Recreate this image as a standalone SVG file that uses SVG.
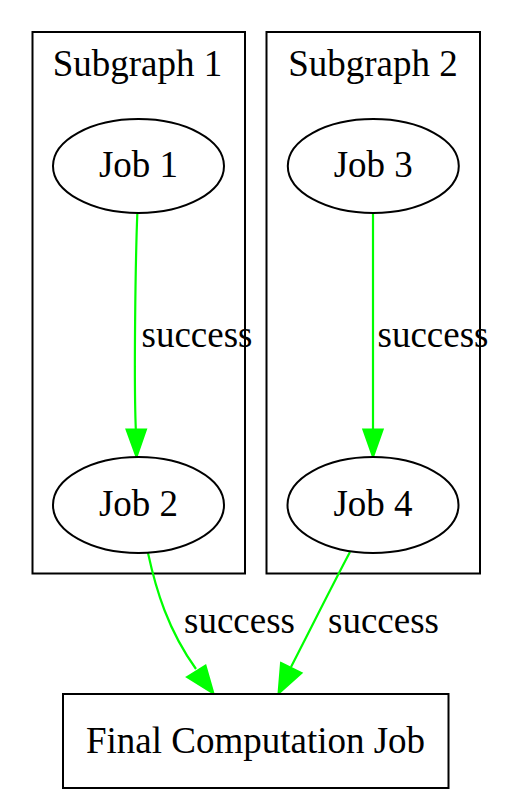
<svg xmlns="http://www.w3.org/2000/svg" width="512" height="800" viewBox="0 0 512 800">
<style>
text{font-family:"Liberation Serif","Times New Roman",serif;font-size:37px;fill:#000;text-anchor:middle}
.cl{fill:none;stroke:#000;stroke-width:2}
.nd{fill:#fff;stroke:#000;stroke-width:2}
.ed{fill:none;stroke:#00ff00;stroke-width:2.2}
.ah{fill:#00ff00;stroke:#00ff00;stroke-width:2}
.lb{text-anchor:start}
</style>
<rect width="512" height="800" fill="#fff"/>
<g id="cluster1">
<rect class="cl" x="32.5" y="32" width="212.5" height="541.5"/>
<text x="137.5" y="75.5">Subgraph 1</text>
</g>
<g id="cluster2">
<rect class="cl" x="266.5" y="32" width="213.5" height="541.5"/>
<text x="373" y="75.5">Subgraph 2</text>
</g>
<g id="edges">
<path class="ed" d="M137.3,214 C135.5,260 133.8,380 135.8,429"/>
<polygon class="ah" points="126.5,429.5 146,429.5 136.5,457"/>
<text class="lb" x="141.5" y="346.5">success</text>
<path class="ed" d="M373,214 L373,429"/>
<polygon class="ah" points="363.3,429.5 382.7,429.5 373,457"/>
<text class="lb" x="377.5" y="346.5">success</text>
<path class="ed" d="M148,553 C156,590 168,630 196,669"/>
<polygon class="ah" points="187,677 205.5,665.5 213.5,693.5"/>
<text class="lb" x="184" y="633">success</text>
<path class="ed" d="M350,552 C335,580 310,630 291,667"/>
<polygon class="ah" points="281,663 301.5,673 278.5,693.5"/>
<text class="lb" x="328" y="633">success</text>
</g>
<g id="job1">
<ellipse class="nd" cx="138.5" cy="166" rx="85.5" ry="47"/>
<text x="138.5" y="177">Job 1</text>
</g>
<g id="job2">
<ellipse class="nd" cx="138.5" cy="505" rx="85.5" ry="48"/>
<text x="138.5" y="515.5">Job 2</text>
</g>
<g id="job3">
<ellipse class="nd" cx="373.3" cy="166" rx="85.5" ry="47"/>
<text x="373.3" y="177">Job 3</text>
</g>
<g id="job4">
<ellipse class="nd" cx="373" cy="505" rx="85.5" ry="48"/>
<text x="373" y="515.5">Job 4</text>
</g>
<g id="final">
<rect class="nd" x="63" y="694" width="385.5" height="94"/>
<text x="255.5" y="752.5">Final Computation Job</text>
</g>
</svg>
